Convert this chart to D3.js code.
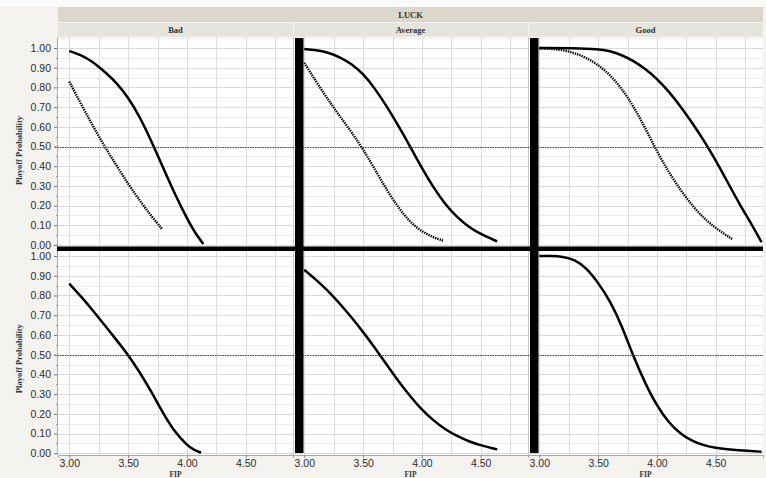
<!DOCTYPE html>
<html>
<head>
<meta charset="utf-8">
<script src="https://cdn.jsdelivr.net/npm/d3@7"></script>
<style>
  body { margin: 0; background: #f4f3ef; }
  svg { display: block; }
</style>
</head>
<body>
<svg id="chart" width="766" height="478"></svg>
<script>
// panels
const luckLevels = ["Bad", "Average", "Good"];
const fipTicks = [3.00, 3.50, 4.00, 4.50];
const probTicks = [0, 0.1, 0.2, 0.3, 0.4, 0.5, 0.6, 0.7, 0.8, 0.9, 1.0];

// top row: solid and dotted curves, [FIP, playoff probability]
const badTopSolid = [[3.00,0.985],[3.10,0.965],[3.20,0.93],[3.30,0.88],[3.40,0.825],[3.50,0.75],[3.60,0.65],[3.70,0.525],[3.80,0.39],[3.90,0.255],[4.00,0.135],[4.07,0.06],[4.14,0.005]];
const badTopDotted = [[3.00,0.83],[3.10,0.715],[3.20,0.605],[3.30,0.50],[3.40,0.405],[3.50,0.31],[3.60,0.225],[3.70,0.145],[3.79,0.08]];
const avgTopSolid = [[3.00,0.995],[3.10,0.99],[3.20,0.978],[3.30,0.955],[3.40,0.92],[3.50,0.87],[3.60,0.795],[3.70,0.705],[3.80,0.605],[3.90,0.50],[4.00,0.39],[4.10,0.29],[4.20,0.205],[4.30,0.14],[4.40,0.09],[4.50,0.055],[4.64,0.018]];
const avgTopDotted = [[3.00,0.925],[3.10,0.83],[3.20,0.74],[3.30,0.655],[3.40,0.575],[3.50,0.485],[3.60,0.385],[3.70,0.28],[3.80,0.19],[3.90,0.115],[4.00,0.068],[4.10,0.038],[4.18,0.022]];
const goodTopSolid = [[3.00,1.0],[3.30,1.0],[3.50,0.995],[3.60,0.985],[3.70,0.965],[3.80,0.935],[3.90,0.895],[4.00,0.845],[4.10,0.78],[4.20,0.705],[4.30,0.62],[4.40,0.53],[4.50,0.43],[4.60,0.32],[4.70,0.21],[4.80,0.11],[4.89,0.014]];
const goodTopDotted = [[3.00,0.998],[3.10,0.996],[3.20,0.99],[3.30,0.975],[3.40,0.95],[3.50,0.915],[3.60,0.865],[3.70,0.795],[3.80,0.705],[3.90,0.595],[4.00,0.475],[4.10,0.37],[4.20,0.28],[4.30,0.20],[4.40,0.135],[4.50,0.085],[4.64,0.03]];

// bottom row: single solid curve
const badBottom = [[3.00,0.86],[3.10,0.795],[3.20,0.725],[3.30,0.65],[3.40,0.575],[3.50,0.50],[3.60,0.41],[3.70,0.31],[3.80,0.20],[3.90,0.105],[4.00,0.042],[4.06,0.016],[4.12,0.003]];
const avgBottom = [[3.00,0.93],[3.10,0.88],[3.20,0.825],[3.30,0.76],[3.40,0.69],[3.50,0.615],[3.60,0.535],[3.70,0.45],[3.80,0.365],[3.90,0.29],[4.00,0.22],[4.10,0.165],[4.20,0.12],[4.30,0.087],[4.40,0.06],[4.50,0.04],[4.64,0.02]];
const goodBottom = [[3.00,1.0],[3.10,1.0],[3.20,0.997],[3.30,0.982],[3.40,0.94],[3.50,0.865],[3.60,0.775],[3.70,0.65],[3.80,0.49],[3.90,0.355],[4.00,0.24],[4.10,0.155],[4.20,0.098],[4.30,0.062],[4.40,0.04],[4.50,0.027],[4.60,0.02],[4.70,0.015],[4.80,0.011],[4.89,0.008]];

const topSeries = [[badTopSolid, badTopDotted], [avgTopSolid, avgTopDotted], [goodTopSolid, goodTopDotted]];
const bottomSeries = [badBottom, avgBottom, goodBottom];

const svg = d3.select("#chart");
var left = 58, panelW = 235, right = left + panelW * 3;
var headTop = 7, headH = 15;
var plotTop = 37, plotBottom = 455;
var sans = "'Liberation Sans', Arial, sans-serif";
var serif = "'Liberation Serif', 'Times New Roman', serif";

const x = d3.scaleLinear().domain([2.904, 4.902]).range([0, panelW]);
const rows = [
  { y: d3.scaleLinear().domain([0, 1]).range([245, 48]), top: plotTop, bottom: 247 },
  { y: d3.scaleLinear().domain([0, 1]).range([453.3, 256]), top: 251, bottom: plotBottom }
];

// header bands
svg.append("rect").attr("x", 0).attr("y", 0).attr("width", 766).attr("height", headTop).attr("fill", "#fafaf8");
svg.append("rect").attr("x", left).attr("y", headTop).attr("width", right - left).attr("height", headH).attr("fill", "#dbd8cb");
svg.append("text").attr("x", (left + right) / 2).attr("y", headTop + 11)
  .attr("text-anchor", "middle").style("font", `bold 8.5px ${serif}`).attr("fill", "#333").text("LUCK");
svg.append("rect").attr("x", left).attr("y", headTop + headH).attr("width", right - left).attr("height", plotTop - headTop - headH).attr("fill", "#e5e4dd");
svg.append("line").attr("x1", left).attr("x2", right).attr("y1", headTop + headH + 0.5).attr("y2", headTop + headH + 0.5).attr("stroke", "#f3f2ec");
luckLevels.forEach((l, i) => {
  svg.append("text").attr("x", left + panelW * i + panelW / 2).attr("y", headTop + headH + 11)
    .attr("text-anchor", "middle").style("font", `bold 8.5px ${serif}`).attr("fill", "#333").text(l);
  if (i > 0) svg.append("line").attr("x1", left + panelW * i + 0.5).attr("x2", left + panelW * i + 0.5)
    .attr("y1", headTop + headH).attr("y2", plotTop).attr("stroke", "#f3f2ec");
});

// plot background
svg.append("rect").attr("x", left).attr("y", plotTop).attr("width", right - left).attr("height", plotBottom - plotTop).attr("fill", "#fff");

const defs = svg.append("defs");
const line = d3.line().curve(d3.curveBasis);

rows.forEach((row, r) => {
  const y = row.y;
  luckLevels.forEach((l, i) => {
    const g = svg.append("g").attr("transform", `translate(${left + panelW * i},0)`);
    const cid = `clip-${r}-${i}`;
    defs.append("clipPath").attr("id", cid).append("rect")
      .attr("x", 0).attr("y", row.top).attr("width", panelW).attr("height", row.bottom - row.top);
    const grid = g.append("g").attr("clip-path", `url(#${cid})`);
    // horizontal grid, minor every 0.05
    grid.selectAll(".hmin").data(d3.range(0, 1.051, 0.05)).join("line")
      .attr("x1", 0).attr("x2", panelW)
      .attr("y1", d => Math.round(y(d)) + 0.5).attr("y2", d => Math.round(y(d)) + 0.5)
      .attr("stroke", (d, k) => k % 2 ? "#ececec" : "#d9d9d9").attr("stroke-width", 1);
    // vertical grid, every 0.25
    grid.selectAll(".vg").data(d3.range(3.0, 4.91, 0.25)).join("line")
      .attr("y1", row.top).attr("y2", row.bottom)
      .attr("x1", d => Math.round(x(d)) + 0.5).attr("x2", d => Math.round(x(d)) + 0.5)
      .attr("stroke", "#dcdcdc").attr("stroke-width", 1);
    // panel divider
    if (i > 0) g.append("line").attr("x1", 0.5).attr("x2", 0.5).attr("y1", row.top).attr("y2", row.bottom).attr("stroke", "#c8c8c8");

    // curves
    const curves = g.append("g").attr("clip-path", `url(#${cid})`);
    line.x(d => x(d[0])).y(d => y(d[1]));
    if (r === 0) {
      const [solid, dotted] = topSeries[i];
      curves.append("path").attr("d", line(dotted)).attr("fill", "none")
        .attr("stroke", "#000").attr("stroke-width", 2.4).attr("stroke-dasharray", "1.4,1");
      curves.append("path").attr("d", line(solid)).attr("fill", "none")
        .attr("stroke", "#000").attr("stroke-width", 2.5);
    } else {
      curves.append("path").attr("d", line(bottomSeries[i])).attr("fill", "none")
        .attr("stroke", "#000").attr("stroke-width", 2.5);
    }
  });

  // 0.50 reference line
  svg.append("line").attr("x1", left - 3).attr("x2", right)
    .attr("y1", Math.round(y(0.5)) + 0.5).attr("y2", Math.round(y(0.5)) + 0.5)
    .attr("stroke", "#444").attr("stroke-width", 1).attr("stroke-dasharray", "1.5,1");

  // y axis
  const ax = svg.append("g").attr("transform", `translate(${left},0)`)
    .call(d3.axisLeft(y).tickValues(probTicks).tickFormat(d3.format(".2f")).tickSize(4).tickPadding(3));
  ax.select(".domain").remove();
  ax.selectAll(".tick line").attr("stroke", "#777");
  ax.selectAll("text").style("font", `10.5px ${sans}`).attr("fill", "#2b2b2b");
  svg.append("g").selectAll("line").data(d3.range(0.05, 1, 0.1)).join("line")
    .attr("x1", left - 2).attr("x2", left)
    .attr("y1", d => Math.round(y(d)) + 0.5).attr("y2", d => Math.round(y(d)) + 0.5)
    .attr("stroke", "#999");
  svg.append("text")
    .attr("transform", `translate(22,${y(0.5) + 4}) rotate(-90)`)
    .attr("text-anchor", "middle").style("font", `bold 8.5px ${serif}`).attr("fill", "#333")
    .text("Playoff Probability");
});

// y axis line
svg.append("line").attr("x1", left - 0.5).attr("x2", left - 0.5).attr("y1", plotTop).attr("y2", plotBottom).attr("stroke", "#aaa");

// x axes
luckLevels.forEach((l, i) => {
  const px = left + panelW * i;
  const ax = svg.append("g").attr("transform", `translate(${px},${plotBottom})`)
    .call(d3.axisBottom(x).tickValues(fipTicks).tickFormat(d3.format(".2f")).tickSize(3).tickPadding(2));
  ax.select(".domain").attr("stroke", "#aaa");
  ax.selectAll(".tick line").attr("stroke", "#888");
  ax.selectAll("text").style("font", `10.5px ${sans}`).attr("fill", "#2b2b2b");
  svg.append("text").attr("x", px + panelW / 2).attr("y", 477)
    .attr("text-anchor", "middle").style("font", `bold 7.5px ${serif}`).attr("fill", "#333").text("FIP");
});

// heavy black separators drawn in the original graphic
svg.append("rect").attr("x", left - 1).attr("y", 246.5).attr("width", right - left + 1).attr("height", 4.5).attr("fill", "#000");
[1, 2].forEach(i => {
  svg.append("rect").attr("x", left + panelW * i + x(2.955) - 4).attr("y", plotTop + 1)
    .attr("width", 8.5).attr("height", 453 - plotTop - 1).attr("fill", "#000");
});
</script>
</body>
</html>
